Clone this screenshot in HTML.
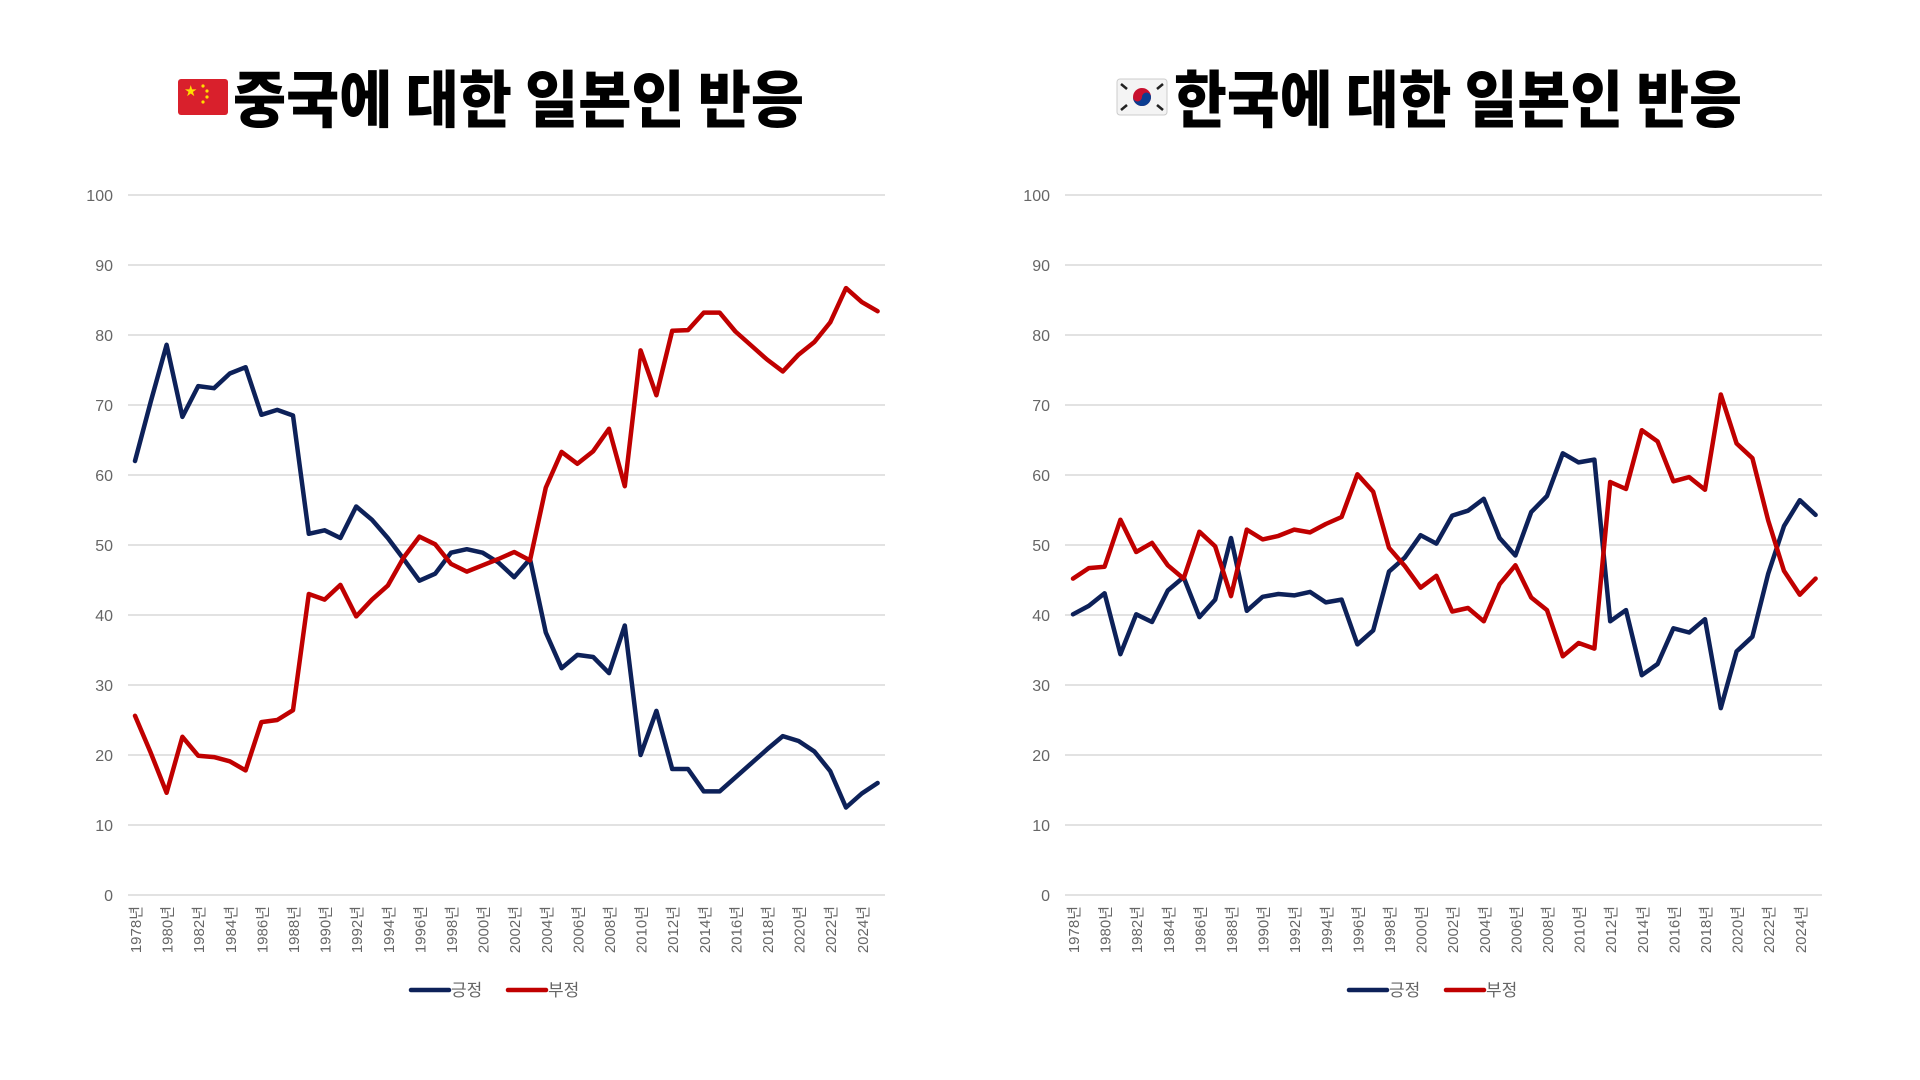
<!DOCTYPE html>
<html><head><meta charset="utf-8"><style>
html,body{margin:0;padding:0;background:#fff;width:1920px;height:1080px;overflow:hidden}
svg{display:block}
.t{font-family:"Noto Sans CJK KR","NanumGothic",sans-serif;font-weight:900;font-size:62px;fill:#000}
.yl{font-family:"Liberation Sans",sans-serif;font-size:16px;fill:#666}
.xl{font-family:"Liberation Sans","Noto Sans CJK KR",sans-serif;font-size:15px;fill:#666}
.lg{font-family:"Noto Sans CJK KR",sans-serif;font-size:17px;fill:#666}
</style></head><body>
<svg id="s" width="1920" height="1080" viewBox="0 0 1920 1080" xmlns="http://www.w3.org/2000/svg">
<rect x="178" y="79" width="50" height="36" fill="#d9202c" rx="3"/>
<text x="184" y="96" font-size="15" fill="#ffde00" font-family="DejaVu Sans">★</text>
<g fill="#ffde00"><circle cx="203" cy="86" r="1.6"/><circle cx="207" cy="91" r="1.6"/><circle cx="207" cy="97" r="1.6"/><circle cx="203" cy="102" r="1.6"/></g>
<text x="233" y="122" class="t" textLength="571" lengthAdjust="spacingAndGlyphs">중국에 대한 일본인 반응</text>
<rect x="1117" y="79" width="50" height="36" fill="#f4f4f4" stroke="#ccc" stroke-width="1" rx="3"/>
<circle cx="1142" cy="97" r="9" fill="#c8102e"/>
<path d="M1133 97 a9 9 0 0 0 18 0 a4.5 4.5 0 0 0 -9 0 a4.5 4.5 0 0 1 -9 0z" fill="#0a3d91"/>
<g stroke="#222" stroke-width="2.5"><line x1="1121" y1="84" x2="1127" y2="89"/><line x1="1157" y1="89" x2="1163" y2="84"/><line x1="1121" y1="110" x2="1127" y2="105"/><line x1="1157" y1="105" x2="1163" y2="110"/></g>
<text x="1174" y="122" class="t" textLength="568" lengthAdjust="spacingAndGlyphs">한국에 대한 일본인 반응</text>
<g id="grid"></g>
<g class="yl" text-anchor="end">
<text x="113" y="201">100</text><text x="113" y="271">90</text><text x="113" y="341">80</text><text x="113" y="411">70</text><text x="113" y="481">60</text><text x="113" y="551">50</text><text x="113" y="621">40</text><text x="113" y="691">30</text><text x="113" y="761">20</text><text x="113" y="831">10</text><text x="113" y="901">0</text>
<text x="1050" y="201">100</text><text x="1050" y="271">90</text><text x="1050" y="341">80</text><text x="1050" y="411">70</text><text x="1050" y="481">60</text><text x="1050" y="551">50</text><text x="1050" y="621">40</text><text x="1050" y="691">30</text><text x="1050" y="761">20</text><text x="1050" y="831">10</text><text x="1050" y="901">0</text>
</g>
<g class="xl" text-anchor="end">
<text transform="translate(141,906) rotate(-90)">1978년</text><text transform="translate(172.6,906) rotate(-90)">1980년</text><text transform="translate(204.2,906) rotate(-90)">1982년</text><text transform="translate(235.8,906) rotate(-90)">1984년</text><text transform="translate(267.4,906) rotate(-90)">1986년</text><text transform="translate(299,906) rotate(-90)">1988년</text><text transform="translate(330.6,906) rotate(-90)">1990년</text><text transform="translate(362.2,906) rotate(-90)">1992년</text><text transform="translate(393.8,906) rotate(-90)">1994년</text><text transform="translate(425.4,906) rotate(-90)">1996년</text><text transform="translate(457,906) rotate(-90)">1998년</text><text transform="translate(488.6,906) rotate(-90)">2000년</text><text transform="translate(520.2,906) rotate(-90)">2002년</text><text transform="translate(551.8,906) rotate(-90)">2004년</text><text transform="translate(583.4,906) rotate(-90)">2006년</text><text transform="translate(615,906) rotate(-90)">2008년</text><text transform="translate(646.6,906) rotate(-90)">2010년</text><text transform="translate(678.2,906) rotate(-90)">2012년</text><text transform="translate(709.8,906) rotate(-90)">2014년</text><text transform="translate(741.4,906) rotate(-90)">2016년</text><text transform="translate(773,906) rotate(-90)">2018년</text><text transform="translate(804.6,906) rotate(-90)">2020년</text><text transform="translate(836.2,906) rotate(-90)">2022년</text><text transform="translate(867.8,906) rotate(-90)">2024년</text>
<text transform="translate(1079,906) rotate(-90)">1978년</text><text transform="translate(1110.6,906) rotate(-90)">1980년</text><text transform="translate(1142.2,906) rotate(-90)">1982년</text><text transform="translate(1173.8,906) rotate(-90)">1984년</text><text transform="translate(1205.4,906) rotate(-90)">1986년</text><text transform="translate(1237,906) rotate(-90)">1988년</text><text transform="translate(1268.6,906) rotate(-90)">1990년</text><text transform="translate(1300.2,906) rotate(-90)">1992년</text><text transform="translate(1331.8,906) rotate(-90)">1994년</text><text transform="translate(1363.4,906) rotate(-90)">1996년</text><text transform="translate(1395,906) rotate(-90)">1998년</text><text transform="translate(1426.6,906) rotate(-90)">2000년</text><text transform="translate(1458.2,906) rotate(-90)">2002년</text><text transform="translate(1489.8,906) rotate(-90)">2004년</text><text transform="translate(1521.4,906) rotate(-90)">2006년</text><text transform="translate(1553,906) rotate(-90)">2008년</text><text transform="translate(1584.6,906) rotate(-90)">2010년</text><text transform="translate(1616.2,906) rotate(-90)">2012년</text><text transform="translate(1647.8,906) rotate(-90)">2014년</text><text transform="translate(1679.4,906) rotate(-90)">2016년</text><text transform="translate(1711,906) rotate(-90)">2018년</text><text transform="translate(1742.6,906) rotate(-90)">2020년</text><text transform="translate(1774.2,906) rotate(-90)">2022년</text><text transform="translate(1805.8,906) rotate(-90)">2024년</text>
</g>
<g id="lines"></g>
<g stroke-width="4.5" stroke-linecap="round">
<line x1="411" y1="990" x2="449" y2="990" stroke="#0d2159"/>
<line x1="508" y1="990" x2="546" y2="990" stroke="#c00000"/>
<line x1="1349" y1="990" x2="1387" y2="990" stroke="#0d2159"/>
<line x1="1446" y1="990" x2="1484" y2="990" stroke="#c00000"/>
</g>
<g class="lg">
<text x="451" y="996">긍정</text><text x="548" y="996">부정</text>
<text x="1389" y="996">긍정</text><text x="1486" y="996">부정</text>
</g>
</svg>
<script>
var NS="http://www.w3.org/2000/svg";
var g=document.getElementById('grid'),L=document.getElementById('lines');
for(var k=0;k<=10;k++){var y=895-k*70;
[[128,885],[1065,1822]].forEach(function(r){var l=document.createElementNS(NS,'line');
l.setAttribute('x1',r[0]);l.setAttribute('x2',r[1]);l.setAttribute('y1',y);l.setAttribute('y2',y);
l.setAttribute('stroke','#d9d9d9');l.setAttribute('stroke-width','1.5');g.appendChild(l);});}
var cp=[62,70.5,78.6,68.3,72.7,72.4,74.5,75.4,68.6,69.3,68.5,51.6,52.1,51.0,55.5,53.6,51.0,48.0,44.9,45.9,48.9,49.4,48.9,47.5,45.4,48.0,37.5,32.4,34.3,34.0,31.7,38.5,20.0,26.3,18.0,18.0,14.8,14.8,16.8,18.8,20.8,22.7,22.0,20.5,17.7,12.5,14.5,16.0];
var cn=[25.6,20.3,14.6,22.6,19.9,19.7,19.1,17.8,24.7,25.0,26.4,43.0,42.2,44.3,39.8,42.2,44.2,48.2,51.2,50.1,47.3,46.2,47.1,48.0,49.0,47.8,58.2,63.3,61.6,63.4,66.6,58.4,77.8,71.4,80.6,80.7,83.2,83.2,80.5,78.5,76.5,74.8,77.2,79.0,81.8,86.7,84.7,83.4];
var kp=[40.1,41.3,43.1,34.4,40.1,39.0,43.5,45.4,39.7,42.2,51.0,40.6,42.6,43.0,42.8,43.3,41.8,42.2,35.8,37.8,46.2,48.2,51.4,50.2,54.2,54.9,56.6,51.0,48.5,54.7,57.0,63.1,61.8,62.2,39.1,40.7,31.4,33.0,38.1,37.5,39.4,26.7,34.8,36.9,45.9,52.7,56.4,54.3];
var kn=[45.2,46.7,46.9,53.6,49.0,50.3,47.1,45.2,51.9,49.8,42.7,52.2,50.8,51.3,52.2,51.8,53.0,54.0,60.1,57.6,49.6,47.0,43.9,45.6,40.5,41.0,39.1,44.4,47.1,42.5,40.7,34.1,36.0,35.2,59.0,58.0,66.4,64.8,59.1,59.7,57.9,71.5,64.5,62.4,53.5,46.3,42.9,45.2];
function pl(d,x0,c){var p=d.map(function(v,i){return (x0+15.8*i).toFixed(1)+','+(895-v*7.0).toFixed(1)}).join(' ');
var e=document.createElementNS(NS,'polyline');e.setAttribute('points',p);e.setAttribute('fill','none');
e.setAttribute('stroke',c);e.setAttribute('stroke-width','4.5');e.setAttribute('stroke-linejoin','round');e.setAttribute('stroke-linecap','round');L.appendChild(e);}
pl(cp,135,'#0d2159');pl(cn,135,'#c00000');pl(kp,1073,'#0d2159');pl(kn,1073,'#c00000');
</script>
</body></html>
